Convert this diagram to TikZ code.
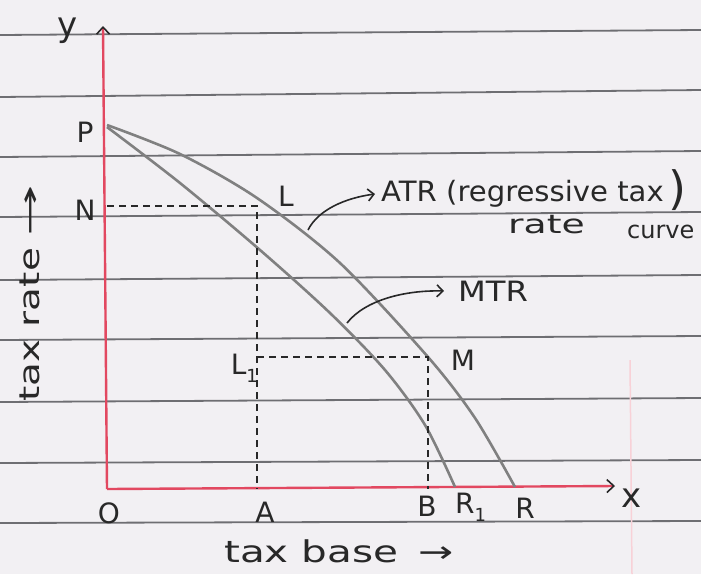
\documentclass[tikz,border=0pt]{standalone}
\usepackage{fontspec}
\setmainfont{DejaVu Sans}
\usetikzlibrary{arrows.meta}
\definecolor{paper}{RGB}{242,240,243}
\definecolor{ruleclr}{RGB}{110,110,114}
\definecolor{axisred}{RGB}{226,72,96}
\definecolor{curvegray}{RGB}{128,128,128}
\definecolor{ink}{RGB}{40,40,40}
\newcommand\hw[2]{\scalebox{#1}[1]{#2}}
\begin{document}
\begin{tikzpicture}[x=1pt,y=-1pt,
  lab/.style={inner sep=0pt, text=ink, font=\fontsize{28}{30}\selectfont},
  ruleline/.style={draw=ruleclr, line width=1.8pt},
  axis/.style={draw=axisred, line width=2.4pt, -{Straight Barb[length=7pt,width=13pt,line width=1.6pt,color=ink]}},
  curveline/.style={draw=curvegray, line width=2.6pt},
  guide/.style={draw=ink, line width=1.7pt, dash pattern=on 7pt off 5pt},
  pointer/.style={draw=ink, line width=1.6pt, -{Straight Barb[length=6pt,width=12pt,line width=1.6pt]}}
]
\fill[paper] (0,0) rectangle (701,574);
\useasboundingbox (0,0) rectangle (701,574);
% ruled paper lines
\foreach \a/\b in {35/30, 97/90, 157/151, 217/212, 280/275, 340/336, 402/398, 463/460, 523/521}
  \draw[ruleline] (0,\a) -- (701,\b);
\draw[axisred!25, line width=1.5pt] (630,360) -- (632,574);
% axes
\coordinate (O) at (107,489);
\coordinate (Ytop) at (103,26);
\coordinate (Xend) at (615,486);
\draw[axis] (O) -- (Ytop);
\draw[axis] (O) -- (Xend);
% curves
\coordinate (P) at (107,125);
\coordinate (R) at (515,487);
\coordinate (R1) at (455,487);
\draw[curveline] plot[smooth] coordinates {(P) (180,154) (257,198) (340,263) (428,357) (475,418) (R)};
\draw[curveline] plot[smooth] coordinates {(107,127) (180,183) (260,250) (330,313) (385,370) (425,425) (R1)};
% dashed guides
\coordinate (Nd) at (107,206);
\coordinate (Lc) at (257,206);
\coordinate (Ad) at (257,489);
\coordinate (L1c) at (257,357);
\coordinate (Mc) at (428,357);
\coordinate (Bd) at (428,489);
\draw[guide] (Nd) -- (Lc) -- (Ad);
\draw[guide] (L1c) -- (Mc) -- (Bd);
% point labels
\node[lab, font=\fontsize{34}{36}\selectfont] (ylab) at (68,31) {y};
\node[lab, font=\fontsize{34}{36}\selectfont] (xlab) at (632,498) {x};
\node[lab] (Plab) at (85,132) {P};
\node[lab] (Nlab) at (85,210) {N};
\node[lab] (Llab) at (286,196) {L};
\node[lab] (Mlab) at (463,360) {M};
\node[lab] (Olab) at (109,513) {O};
\node[lab] (Alab) at (265,512) {A};
\node[lab] (Blab) at (427,506) {B};
\node[lab, anchor=west] (R1lab) at (455,507) {R\raisebox{-8pt}{\fontsize{18}{18}\selectfont 1}};
\node[lab] (Rlab) at (525,508) {R};
\node[lab, anchor=east] (L1lab) at (258,368) {L\raisebox{-8pt}{\fontsize{18}{18}\selectfont 1}};
% curve captions
\node[lab, anchor=west] (atr) at (381,194) {\hw{1.04}{ATR (regressive tax}};
\node[lab, font=\fontsize{46}{46}\selectfont, anchor=west] (rparen) at (668,190) {)};
\node[lab, anchor=west, font=\fontsize{26}{28}\selectfont] (rate) at (508,225) {\hw{1.45}{rate}};
\node[lab, anchor=west, font=\fontsize{24}{26}\selectfont] (curvetxt) at (627,232) {curve};
\node[lab, anchor=west] (mtr) at (458,291) {\hw{1.15}{MTR}};
\draw[pointer] (308,230) .. controls (318,210) and (345,198) .. ([xshift=-6pt]atr.west);
\draw[pointer] (347,323) .. controls (365,300) and (405,290) .. ([xshift=-14pt]mtr.west);
% axis titles
\node[lab, rotate=90] (taxrate) at (30,293) {\hw{1.39}{tax rate}\hspace{12pt}\hw{2.2}{→}};
\node[lab, anchor=west, font=\fontsize{30}{32}\selectfont] (taxbase) at (224,551) {\hw{1.35}{tax base}\hspace{20pt}\hw{1.4}{→}};
\end{tikzpicture}
\end{document}
